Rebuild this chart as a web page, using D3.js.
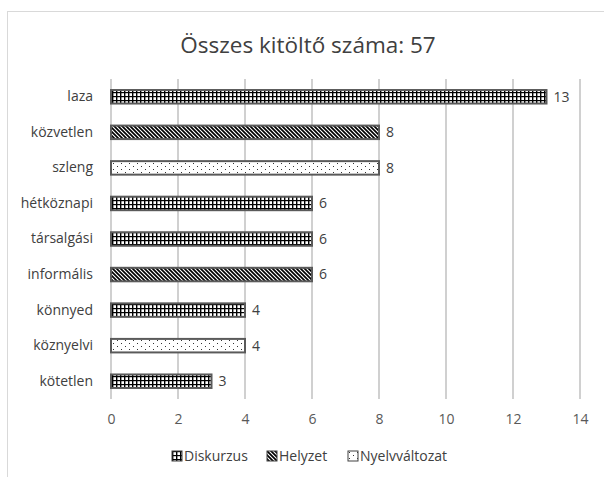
<!DOCTYPE html>
<html><head><meta charset="utf-8">
<script src="https://cdn.jsdelivr.net/npm/d3@7"></script>
<style>body{margin:0;background:#fff;}svg{display:block;font-family:"Open Sans",sans-serif;}</style>
</head><body>
<script>
const title = "Összes kitöltő száma: 57";
const categories = ["laza","közvetlen","szleng","hétköznapi","társalgási","informális","könnyed","köznyelvi","kötetlen"];
const values = [13,8,8,6,6,6,4,4,3];
const groups = ["Diskurzus","Helyzet","Nyelvváltozat","Diskurzus","Diskurzus","Helyzet","Diskurzus","Nyelvváltozat","Diskurzus"];
const legendItems = ["Diskurzus","Helyzet","Nyelvváltozat"];
const xTicks = [0,2,4,6,8,10,12,14];

const W=604,H=477;
const svg=d3.select("body").append("svg").attr("width",W).attr("height",H);
const defs=svg.append("defs");
const p1=defs.append("pattern").attr("id","pDiskurzus").attr("patternUnits","userSpaceOnUse").attr("width",4).attr("height",4);
p1.append("rect").attr("width",4).attr("height",4).attr("fill","#fff");
p1.append("rect").attr("x",0).attr("y",0).attr("width",1.4).attr("height",4).attr("fill","#000");
p1.append("rect").attr("x",0).attr("y",0).attr("width",4).attr("height",1.2).attr("fill","#000");
const p2=defs.append("pattern").attr("id","pHelyzet").attr("patternUnits","userSpaceOnUse").attr("width",4).attr("height",4);
p2.append("rect").attr("width",4).attr("height",4).attr("fill","#fff");
p2.append("path").attr("d","M-1,-1 L5,5 M-1,3 L1,5 M3,-1 L5,1").attr("stroke","#000").attr("stroke-width",1.7);
const p3=defs.append("pattern").attr("id","pNyelvváltozat").attr("patternUnits","userSpaceOnUse").attr("width",8).attr("height",6);
p3.append("rect").attr("width",8).attr("height",6).attr("fill","#fff");
p3.append("rect").attr("x",1).attr("y",1).attr("width",1).attr("height",1).attr("fill","#333");
p3.append("rect").attr("x",5).attr("y",4).attr("width",1).attr("height",1).attr("fill","#333");

svg.append("rect").attr("x",7.5).attr("y",11.5).attr("width",W).attr("height",H).attr("fill","none").attr("stroke","#d9d9d9");

svg.append("text").attr("x",308).attr("y",53).attr("text-anchor","middle").attr("font-size",22.5).attr("fill","#404040").text(title);

const x=d3.scaleLinear().domain([0,14]).range([111,580]);
const y=d3.scaleBand().domain(categories).range([79,399]).paddingInner(0.62).paddingOuter(0.31);

svg.append("g").selectAll("line").data(xTicks).join("line")
 .attr("x1",d=>x(d)).attr("x2",d=>x(d)).attr("y1",79).attr("y2",399)
 .attr("stroke","#d0d0d0").attr("stroke-width",2);

const xa=svg.append("g").attr("transform","translate(0,399)").call(d3.axisBottom(x).tickValues(xTicks).tickSize(0).tickPadding(15));
xa.select(".domain").remove();
xa.selectAll("text").attr("font-size",14).attr("fill","#595959").attr("font-family","Open Sans, sans-serif");

const ya=svg.append("g").attr("transform","translate(93,0)").call(d3.axisLeft(y).tickSize(0).tickPadding(0));
ya.select(".domain").remove();
ya.selectAll("text").attr("font-size",14).attr("fill","#404040").attr("font-family","Open Sans, sans-serif");

svg.append("g").selectAll("rect").data(categories).join("rect")
 .attr("x",x(0)).attr("y",d=>y(d)).attr("height",y.bandwidth())
 .attr("width",(d,i)=>x(values[i])-x(0))
 .attr("fill",(d,i)=>`url(#p${groups[i]})`).attr("stroke","#5a5a5a").attr("stroke-width",2);

svg.append("g").selectAll("text").data(categories).join("text")
 .attr("x",(d,i)=>x(values[i])+7).attr("y",d=>y(d)+y.bandwidth()/2).attr("dy","0.35em")
 .attr("font-size",14).attr("fill","#404040").text((d,i)=>values[i]);

const lx=[172,267,348];
const lg=svg.append("g").selectAll("g").data(legendItems).join("g").attr("transform",(d,i)=>`translate(${lx[i]},451)`);
lg.append("rect").attr("width",10).attr("height",10).attr("fill",d=>`url(#p${d})`).attr("stroke","#404040").attr("stroke-width",1);
lg.append("text").attr("x",12).attr("y",5).attr("dy","0.35em").attr("font-size",14).attr("fill","#404040").text(d=>d);
</script>
</body></html>
